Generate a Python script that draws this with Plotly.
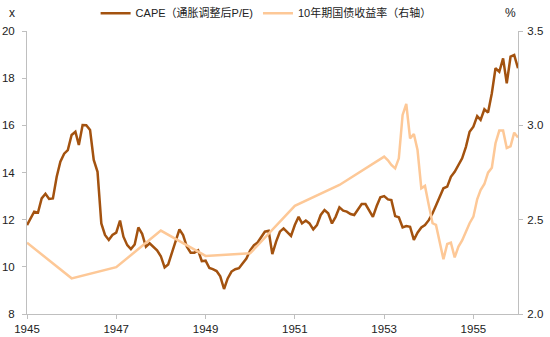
import plotly.graph_objects as go
import pandas as pd

dates = pd.date_range("1945-01-01", "1956-01-01", freq="MS")

cape = [
    11.77, 12.10, 12.34, 12.30, 12.90, 13.10, 12.88, 12.90, 13.82, 14.46, 14.80, 14.95,
    15.59, 15.73, 15.17, 16.01, 16.00, 15.80, 14.53, 14.03, 11.84, 11.35, 11.14, 11.35,
    11.45, 11.96, 11.28, 10.92, 10.75, 10.95, 11.67, 11.40, 10.85, 11.00, 10.85, 10.70,
    10.45, 9.98, 10.10, 10.60, 11.10, 11.59, 11.35, 10.85, 10.60, 10.60, 10.70, 10.24,
    10.26, 9.95, 9.90, 9.82, 9.60, 9.06, 9.51, 9.80, 9.90, 9.94, 10.15, 10.35,
    10.70, 10.92, 11.02, 11.25, 11.49, 11.53, 10.54, 11.07, 11.49, 11.63, 11.45, 11.31,
    11.77, 12.12, 11.84, 11.96, 11.84, 11.59, 11.77, 12.20, 12.41, 12.27, 11.84, 12.12,
    12.52, 12.38, 12.34, 12.24, 12.20, 12.44, 12.66, 12.66, 12.41, 12.12, 12.58, 12.95,
    13.00, 12.86, 12.83, 12.15, 12.10, 11.67, 11.73, 11.70, 11.14, 11.45, 11.67, 11.77,
    11.98, 12.27, 12.60, 13.00, 13.33, 13.40, 13.82, 14.03, 14.32, 14.60, 15.09, 15.73,
    15.94, 16.39, 16.23, 16.68, 16.54, 17.36, 18.42, 18.27, 18.84, 17.78, 18.91, 18.98,
    18.42,
]

# 10-year treasury yield: annual (January) readings until 1953, monthly afterwards
N = None
yield10 = [
    2.378, N, N, N, N, N, N, N, N, N, N, N,
    2.189, N, N, N, N, N, N, N, N, N, N, N,
    2.248, N, N, N, N, N, N, N, N, N, N, N,
    2.442, N, N, N, N, N, N, N, N, N, N, N,
    2.308, N, N, N, N, N, N, N, N, N, N, N,
    2.322, N, N, N, N, N, N, N, N, N, N, N,
    2.573, N, N, N, N, N, N, N, N, N, N, N,
    2.684, N, N, N, N, N, N, N, N, N, N, N,
    2.834, 2.815, 2.790, 2.772, 2.825, 3.055, 3.113, 2.931, 2.954, 2.869, 2.666, 2.679,
    2.578, 2.481, 2.472, 2.383, 2.290, 2.371, 2.378, 2.300, 2.357, 2.390, 2.440, 2.481,
    2.516, 2.608, 2.657, 2.689, 2.749, 2.775, 2.905, 2.972, 2.972, 2.880, 2.889, 2.961,
    2.935,
]

name_cape = "CAPE（通胀调整后P/E)"
name_yield = "10年期国债收益率（右轴）"

FONT = "Liberation Sans, Arial, Noto Sans CJK SC, sans-serif"
TXT = "#222222"

fig = go.Figure()
fig.add_trace(go.Scatter(x=dates, y=cape, name=name_cape, mode="lines",
                         line=dict(color="#A3520F", width=2.5)))
fig.add_trace(go.Scatter(x=dates, y=yield10, name=name_yield, mode="lines",
                         connectgaps=True, yaxis="y2",
                         line=dict(color="#FDC897", width=2.5)))

axis_common = dict(showgrid=False, zeroline=False, showline=True,
                   linecolor="#BFBFBF", linewidth=1, ticks="outside",
                   ticklen=4, tickcolor="#BFBFBF", automargin=False,
                   tickfont=dict(family=FONT, size=11.5, color=TXT))

fig.update_layout(
    width=550, height=337,
    margin=dict(l=27, r=32, t=31, b=23, autoexpand=False),
    paper_bgcolor="white", plot_bgcolor="white",
    font=dict(family=FONT, size=12, color=TXT),
    showlegend=True,
    legend=dict(orientation="h", x=0.487, xanchor="center", y=1.063, yanchor="middle",
                font=dict(family=FONT, size=11, color=TXT),
                bgcolor="rgba(0,0,0,0)", itemwidth=30, tracegroupgap=0),
    xaxis=dict(range=["1945-01-01", "1956-01-01"], type="date",
               tick0="1945-01-01", dtick="M24", tickformat="%Y",
               **axis_common),
    yaxis=dict(range=[8, 20], dtick=2, ticklabelstandoff=5, **axis_common),
    yaxis2=dict(range=[2.0, 3.5], dtick=0.5, tickformat=".1f", overlaying="y",
                side="right", anchor="x", ticklabelstandoff=2, **axis_common),
    annotations=[
        dict(text="x", xref="paper", yref="paper", x=-0.031, y=1.063,
             xanchor="center", yanchor="middle", showarrow=False,
             font=dict(family=FONT, size=12, color=TXT)),
        dict(text="%", xref="paper", yref="paper", x=0.985, y=1.063,
             xanchor="center", yanchor="middle", showarrow=False,
             font=dict(family=FONT, size=12, color=TXT)),
    ],
)

fig.write_html("out.html", config={"displayModeBar": False},
               post_script="document.body.style.margin='0';")
